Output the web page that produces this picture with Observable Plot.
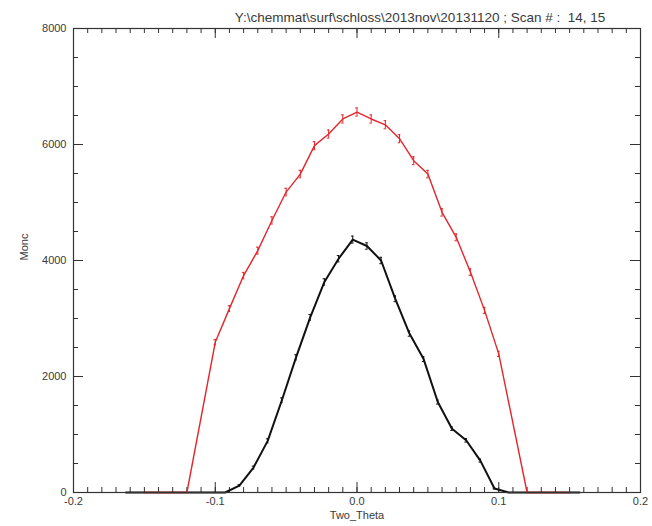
<!DOCTYPE html>
<html>
<head>
<meta charset="utf-8">
<script src="https://cdn.jsdelivr.net/npm/d3@7"></script>
<script src="https://cdn.jsdelivr.net/npm/@observablehq/plot@0.6"></script>
<style>
  html, body { margin: 0; padding: 0; background: #fff; }
  #chart { width: 652px; height: 526px; }
</style>
</head>
<body>
<div id="chart"></div>
<script>
const title = "Y:\\chemmat\\surf\\schloss\\2013nov\\20131120 ; Scan # :  14, 15";
const xLabel = "Two_Theta";
const yLabel = "Monc";

const xTicks = [-0.2, -0.1, 0.0, 0.1, 0.2];
const yTicks = [0, 2000, 4000, 6000, 8000];

// Scan 14 (black)
const blackX = [-0.163, -0.153, -0.143, -0.133, -0.123, -0.113, -0.103, -0.093, -0.083, -0.073, -0.063, -0.053, -0.043, -0.033, -0.023, -0.013, -0.003, 0.007, 0.017, 0.027, 0.037, 0.047, 0.057, 0.067, 0.077, 0.087, 0.097, 0.107, 0.117, 0.127, 0.137, 0.147, 0.157];
const blackY = [0, 0, 0, 0, 0, 0, 0, 0, 120, 430, 890, 1590, 2330, 3020, 3630, 4030, 4360, 4250, 4000, 3340, 2740, 2300, 1560, 1100, 900, 550, 70, 0, 0, 0, 0, 0, 0];
const blackErr = [0, 0, 0, 0, 0, 0, 0, 0, 15, 25, 35, 40, 45, 50, 55, 55, 60, 55, 55, 50, 45, 40, 35, 30, 30, 25, 10, 0, 0, 0, 0, 0, 0];

// Scan 15 (red)
const redX = [-0.15, -0.14, -0.13, -0.12, -0.10, -0.09, -0.08, -0.07, -0.06, -0.05, -0.04, -0.03, -0.02, -0.01, 0.00, 0.01, 0.02, 0.03, 0.04, 0.05, 0.06, 0.07, 0.08, 0.09, 0.10, 0.12, 0.13, 0.14, 0.15];
const redY = [0, 0, 0, 0, 2590, 3170, 3740, 4170, 4690, 5180, 5490, 5980, 6180, 6440, 6560, 6440, 6340, 6100, 5720, 5490, 4830, 4400, 3800, 3140, 2390, 0, 0, 0, 0];
const redErr = [0, 0, 0, 0, 45, 50, 55, 60, 62, 65, 65, 70, 70, 70, 70, 70, 70, 70, 68, 65, 64, 60, 56, 52, 45, 0, 0, 0, 0];

const xMinor = d3.range(-20, 21).map(i => i / 100);
const yMinor = d3.range(0, 17).map(i => i * 500);

const black = blackX.map((x, i) => ({x, y: blackY[i], e: blackErr[i]}));
const red = redX.map((x, i) => ({x, y: redY[i], e: redErr[i]}));

const W = 652, H = 526;
const mL = 73, mR = 12, mT = 28, mB = 34;
const pw = W - mL - mR, ph = H - mT - mB;
const axisColor = "#333";
const textColor = "#3a3a3a";
const redColor = "#e3262b";
const blackColor = "#111";
const capHalf = 0.0009;

const errMarks = (data, color, sw) => [
  Plot.ruleX(data.filter(d => d.e > 0), {x: "x", y1: d => d.y - d.e, y2: d => d.y + d.e, stroke: color, strokeWidth: sw}),
  Plot.ruleY(data.filter(d => d.e > 0), {y: d => d.y - d.e, x1: d => d.x - capHalf, x2: d => d.x + capHalf, stroke: color, strokeWidth: sw}),
  Plot.ruleY(data.filter(d => d.e > 0), {y: d => d.y + d.e, x1: d => d.x - capHalf, x2: d => d.x + capHalf, stroke: color, strokeWidth: sw})
];

const chart = Plot.plot({
  width: W,
  height: H,
  marginLeft: mL,
  marginRight: mR,
  marginTop: mT,
  marginBottom: mB,
  style: {fontFamily: "Liberation Sans, Arial, sans-serif", fontSize: "11px", color: textColor, background: "#fff"},
  x: {domain: [-0.2, 0.2]},
  y: {domain: [0, 8000]},
  marks: [
    Plot.tickX(xMinor, {x: d => d, insetTop: ph - 5, stroke: axisColor}),
    Plot.tickX(xMinor, {x: d => d, insetBottom: ph - 5, stroke: axisColor}),
    Plot.tickX(xTicks, {x: d => d, insetTop: ph - 10, stroke: axisColor}),
    Plot.tickX(xTicks, {x: d => d, insetBottom: ph - 10, stroke: axisColor}),
    Plot.tickY(yMinor, {y: d => d, insetRight: pw - 5, stroke: axisColor}),
    Plot.tickY(yMinor, {y: d => d, insetLeft: pw - 5, stroke: axisColor}),
    Plot.tickY(yTicks, {y: d => d, insetRight: pw - 10, stroke: axisColor}),
    Plot.tickY(yTicks, {y: d => d, insetLeft: pw - 10, stroke: axisColor}),
    Plot.line(black, {x: "x", y: "y", stroke: blackColor, strokeWidth: 2}),
    ...errMarks(black, blackColor, 1),
    Plot.line(red, {x: "x", y: "y", stroke: redColor, strokeWidth: 1.4}),
    ...errMarks(red, redColor, 1),
    Plot.frame({stroke: axisColor, strokeWidth: 1.2}),
    Plot.axisX({ticks: xTicks, tickSize: 0, tickPadding: 5, tickFormat: d => d3.format(".1f")(d).replace("−", "-"), label: null, fill: textColor}),
    Plot.axisY({ticks: yTicks, tickSize: 0, tickPadding: 7, tickFormat: d3.format("d"), label: null, fill: textColor}),
    Plot.text([xLabel], {frameAnchor: "bottom", dy: 26, fill: textColor, fontSize: 11}),
    Plot.text([yLabel], {frameAnchor: "left", dx: -49, rotate: -90, fill: textColor, fontSize: 11}),
    Plot.text([title], {frameAnchor: "top", dx: 63, dy: -16, fill: textColor, fontSize: 13.5})
  ]
});
document.getElementById("chart").appendChild(chart);
</script>
</body>
</html>
